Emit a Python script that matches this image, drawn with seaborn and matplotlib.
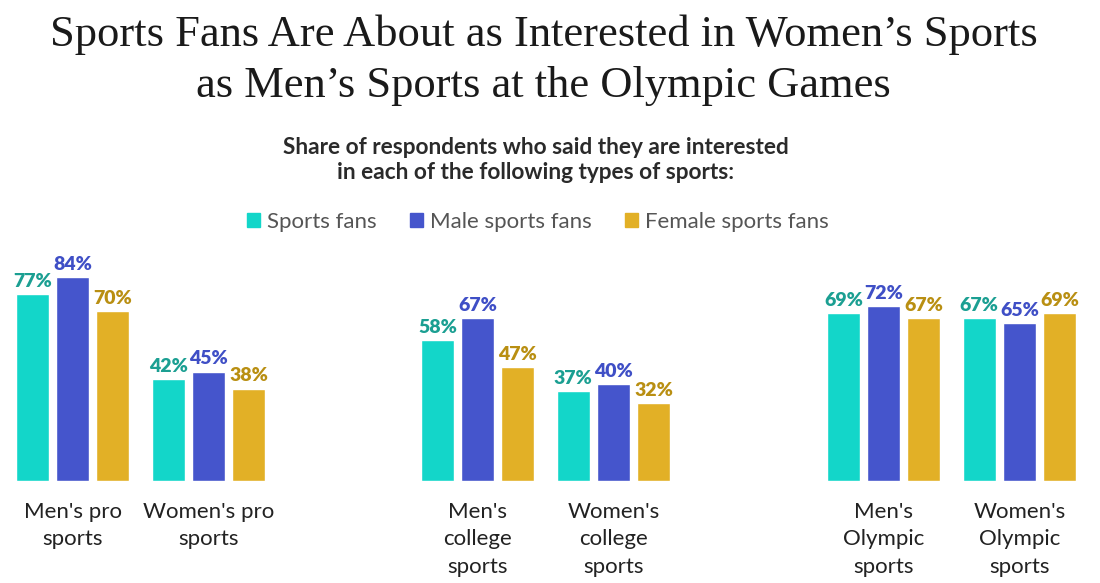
import matplotlib
matplotlib.use("Agg")
import matplotlib.pyplot as plt
import matplotlib.patches as mpatches
import seaborn as sns
import pandas as pd

sns.set_theme(style="white")
plt.rcParams['font.family'] = ['Lato', 'DejaVu Sans']

categories = ["Men's pro\nsports", "Women's pro\nsports",
              "Men's\ncollege\nsports", "Women's\ncollege\nsports",
              "Men's\nOlympic\nsports", "Women's\nOlympic\nsports"]
series = ["Sports fans", "Male sports fans", "Female sports fans"]
sports_fans = [77, 42, 58, 37, 69, 67]
male_fans = [84, 45, 67, 40, 72, 65]
female_fans = [70, 38, 47, 32, 67, 69]

bar_colors = ["#13d6c9", "#4555cc", "#e2b026"]
label_colors = ["#1b9f92", "#3f4fc6", "#b98f12"]

df = pd.DataFrame({
    "category": categories * 3,
    "series": [s for s in series for _ in categories],
    "value": sports_fans + male_fans + female_fans,
})

fig = plt.figure(figsize=(11, 5.83), dpi=100)
W, H = 1100, 583

# title and subtitle
fig.text(0.494, 1 - 35 / H, "Sports Fans Are About as Interested in Women\u2019s Sports",
         ha="center", va="center", fontsize=32, family="Liberation Serif", color="#1a1a1a")
fig.text(0.494, 1 - 86 / H, "as Men\u2019s Sports at the Olympic Games",
         ha="center", va="center", fontsize=32, family="Liberation Serif", color="#1a1a1a")
fig.text(0.487, 1 - 160 / H,
         "Share of respondents who said they are interested\nin each of the following types of sports:",
         ha="center", va="center", fontsize=16.3, fontweight="bold", color="#2a2a2a",
         linespacing=1.2)

panel_left = [16, 421, 827]
for p in range(3):
    cats = categories[2 * p:2 * p + 2]
    sub = df[df["category"].isin(cats)]
    ax = fig.add_axes([panel_left[p] / W, (H - 481) / H, 249 / W, 243 / H])
    sns.barplot(data=sub, x="category", y="value", hue="series", order=cats,
                hue_order=series, palette=bar_colors, width=0.886, gap=0.175,
                saturation=1, legend=False, ax=ax)
    for cont, col in zip(ax.containers, label_colors):
        ax.bar_label(cont, fmt="%d%%", color=col, fontsize=14,
                     fontweight="heavy", padding=3)
    ax.set_xlim(-0.417, 1.417)
    ax.set_ylim(0, 100)
    ax.set_xlabel("")
    ax.set_ylabel("")
    ax.set_yticks([])
    ax.tick_params(axis="x", length=0, pad=15, labelsize=16, labelcolor="#222222")
    for lab in ax.get_xticklabels():
        lab.set_linespacing(1.47)
        lab.set_va("top")
    sns.despine(ax=ax, left=True, bottom=True)

handles = [mpatches.Patch(color=c, label=s) for c, s in zip(bar_colors, series)]
fig.legend(handles=handles, loc="center", bbox_to_anchor=(0.489, 1 - 222 / H),
           ncol=3, frameon=False, fontsize=16, labelcolor="#555555",
           handlelength=0.6, handleheight=0.6, handletextpad=0.3, columnspacing=1.5)

fig.savefig("out.png", dpi=100)
